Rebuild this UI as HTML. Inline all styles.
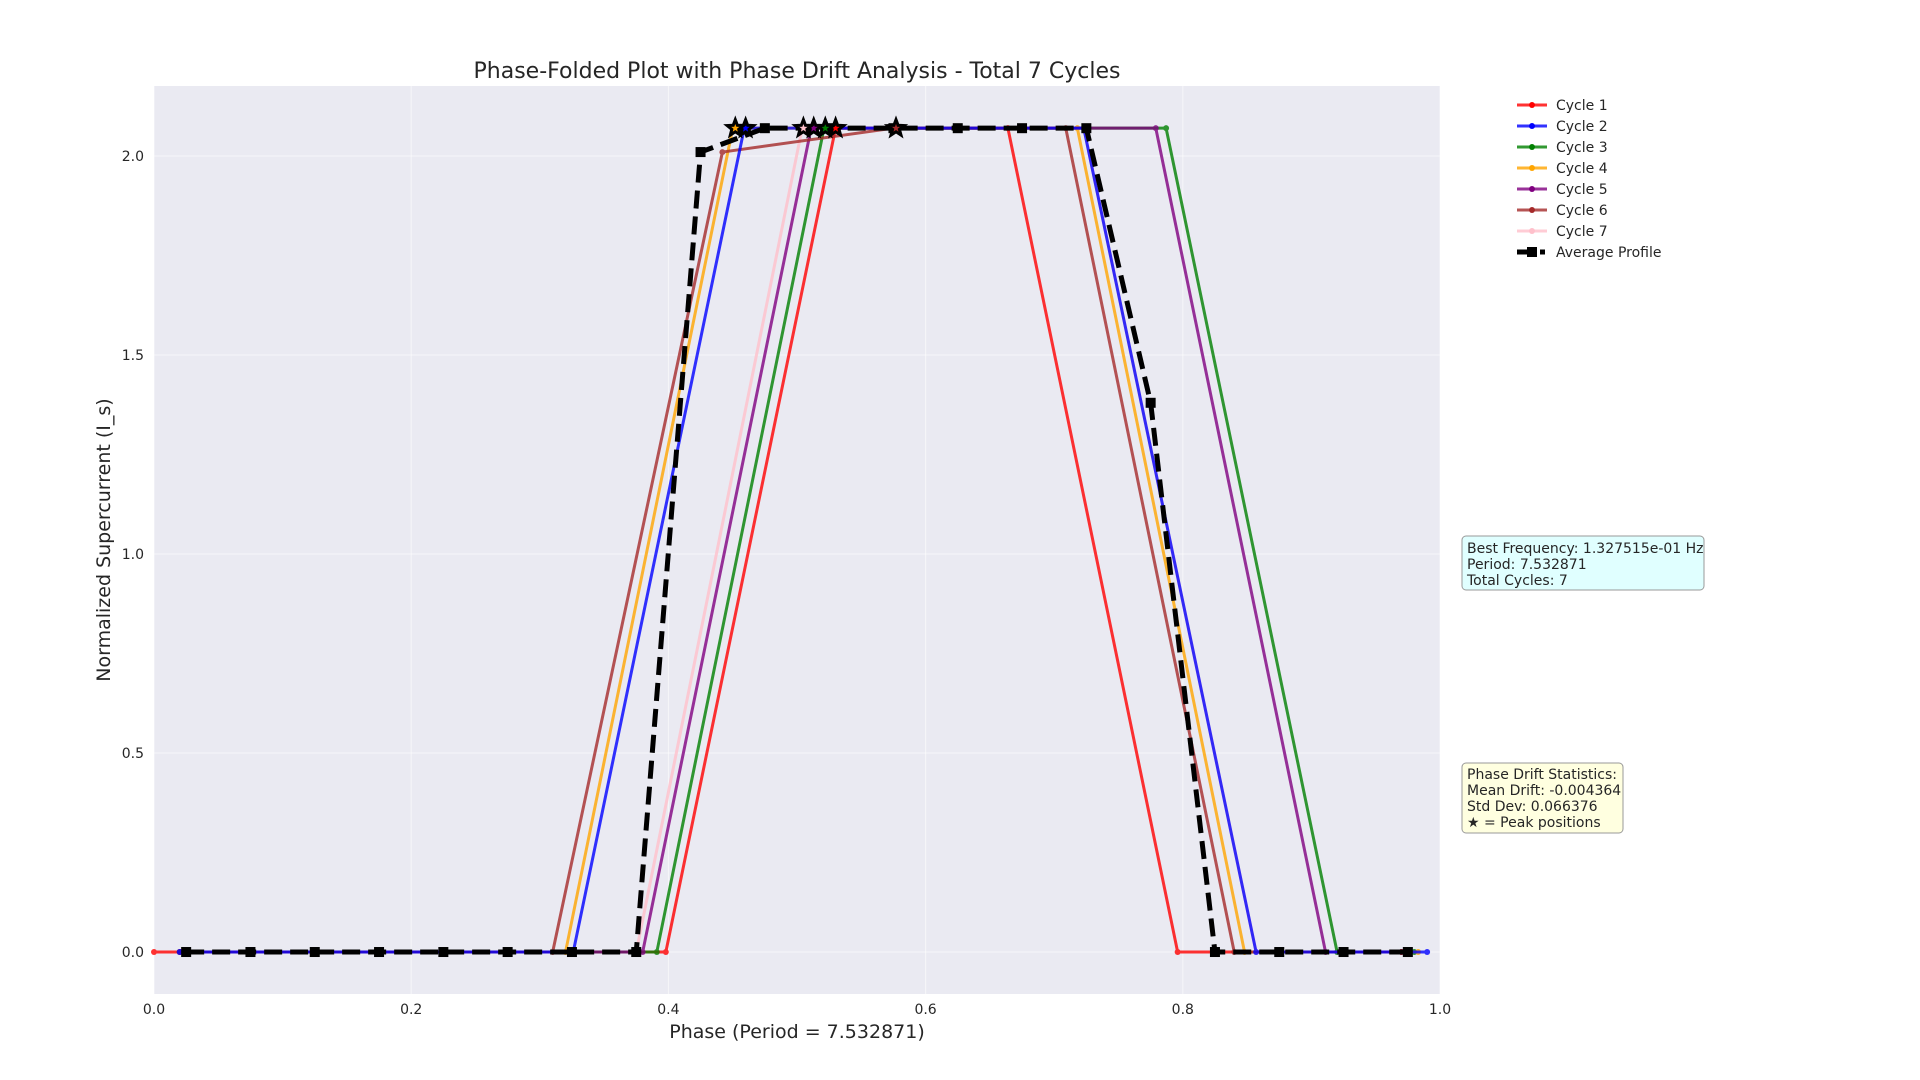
<!DOCTYPE html>
<html><head><meta charset="utf-8"><style>
html,body{margin:0;padding:0;background:#fff;}
svg{display:block;font-family:"DejaVu Sans","Liberation Sans",sans-serif;}
</style></head><body>
<svg id="chart" width="1920" height="1080" viewBox="0 0 1920 1080">
<rect x="154" y="86" width="1286" height="908" fill="#eaeaf2"/>
<g id="grid"></g><g id="series"></g><g id="avg"></g><g id="stars"></g><g id="ticks"></g>
<text x="797" y="78" text-anchor="middle" font-size="22" fill="#262626">Phase-Folded Plot with Phase Drift Analysis - Total 7 Cycles</text>
<text x="797" y="1038" text-anchor="middle" font-size="19" fill="#262626">Phase (Period = 7.532871)</text>
<text transform="translate(110,540) rotate(-90)" text-anchor="middle" font-size="19" fill="#262626">Normalized Supercurrent (I_s)</text>
<g id="legend"></g>
<g>
<rect x="1462" y="536" width="242" height="54" rx="4" fill="#e0ffff" stroke="#999" stroke-width="1"/>
<text x="1467" y="553" font-size="14" fill="#262626">Best Frequency: 1.327515e-01 Hz</text>
<text x="1467" y="569" font-size="14" fill="#262626">Period: 7.532871</text>
<text x="1467" y="585" font-size="14" fill="#262626">Total Cycles: 7</text>
</g>
<g>
<rect x="1462" y="763" width="161" height="70" rx="4" fill="#ffffe0" stroke="#999" stroke-width="1"/>
<text x="1467" y="779" font-size="14" fill="#262626">Phase Drift Statistics:</text>
<text x="1467" y="795" font-size="14" fill="#262626">Mean Drift: -0.004364</text>
<text x="1467" y="811" font-size="14" fill="#262626">Std Dev: 0.066376</text>
<text x="1467" y="827" font-size="14" fill="#262626">★ = Peak positions</text>
</g>
</svg>
<script>
const xTicks=[0,0.2,0.4,0.6,0.8,1.0];
const xTickLabels=["0.0","0.2","0.4","0.6","0.8","1.0"];
const yTicks=[0,0.5,1.0,1.5,2.0];
const yTickLabels=["0.0","0.5","1.0","1.5","2.0"];
const cycleNames=["Cycle 1","Cycle 2","Cycle 3","Cycle 4","Cycle 5","Cycle 6","Cycle 7"];
const cycleColors=["#ff0000","#0000ff","#008000","#ffa500","#800080","#a52a2a","#ffc0cb"];
const c1x=[0,0.398,0.530,0.664,0.796,0.97],c1y=[0,0,2.07,2.07,0,0];
const c2x=[0.02,0.326,0.459,0.723,0.857,0.99],c2y=[0,0,2.07,2.07,0,0];
const c3x=[0.02,0.391,0.521,0.787,0.920,0.98],c3y=[0,0,2.07,2.07,0,0];
const c4x=[0.02,0.320,0.450,0.718,0.848,0.983],c4y=[0,0,2.07,2.07,0,0];
const c5x=[0.02,0.380,0.511,0.779,0.911,0.97],c5y=[0,0,2.07,2.07,0,0];
const c6x=[0.02,0.310,0.442,0.575,0.709,0.840,0.97],c6y=[0,0,2.01,2.07,2.07,0,0];
const c7x=[0.02,0.375,0.504,0.723,0.857,0.97],c7y=[0,0,2.07,2.07,0,0];
const cyclesX=[c1x,c2x,c3x,c4x,c5x,c6x,c7x];
const cyclesY=[c1y,c2y,c3y,c4y,c5y,c6y,c7y];
const drawOrder=[6,0,2,3,4,5,1];
const avgX=[0.025,0.075,0.125,0.175,0.225,0.275,0.325,0.375,0.425,0.475,0.525,0.575,0.625,0.675,0.725,0.775,0.825,0.875,0.925,0.975];
const avgY=[0,0,0,0,0,0,0,0,2.01,2.07,2.07,2.07,2.07,2.07,2.07,1.38,0,0,0,0];
const peakX=[0.530,0.460,0.522,0.452,0.513,0.577,0.505];
const peakY=[2.07,2.07,2.07,2.07,2.07,2.07,2.07];

const NS="http://www.w3.org/2000/svg";
const X0=154,X1=1440,Y0=994,Y1=86,XMIN=0,XMAX=1,YMIN=-0.1055,YMAX=2.176;
function sx(v){return X0+(v-XMIN)/(XMAX-XMIN)*(X1-X0);}
function sy(v){return Y0-(v-YMIN)/(YMAX-YMIN)*(Y0-Y1);}
function mk(tag,attrs,parent){const e=document.createElementNS(NS,tag);for(const k in attrs)e.setAttribute(k,attrs[k]);parent.appendChild(e);return e;}
const grid=document.getElementById('grid'),ticks=document.getElementById('ticks');
xTicks.forEach((t,i)=>{
  const l=mk('line',{x1:sx(t),x2:sx(t),y1:Y1,y2:Y0,stroke:'#fff','stroke-width':1,opacity:0.6},grid);
  
  
  const tx=mk('text',{x:sx(t),y:Y0+20,'text-anchor':'middle','font-size':14,fill:'#262626'},ticks);
  tx.textContent=xTickLabels[i];
  
  
});
yTicks.forEach((t,i)=>{
  const l=mk('line',{x1:X0,x2:X1,y1:sy(t),y2:sy(t),stroke:'#fff','stroke-width':1,opacity:0.6},grid);
  
  
  const tx=mk('text',{x:X0-10,y:sy(t)+5,'text-anchor':'end','font-size':14,fill:'#262626'},ticks);
  tx.textContent=yTickLabels[i];
  
  
});
const sg=document.getElementById('series');
drawOrder.forEach(i=>{
  const xs=cyclesX[i];
  const g=mk('g',{opacity:0.8},sg);
  
  
  const pts=xs.map((x,j)=>sx(x)+','+sy(cyclesY[i][j])).join(' ');
  mk('polyline',{points:pts,fill:'none',stroke:cycleColors[i],'stroke-width':3,'stroke-linejoin':'round'},g);
  xs.forEach((x,j)=>{
    const c=mk('circle',{cx:sx(x),cy:sy(cyclesY[i][j]),r:3,fill:cycleColors[i]},g);
    
    
  });
});
const ag=document.getElementById('avg');


mk('polyline',{points:avgX.map((x,j)=>sx(x)+','+sy(avgY[j])).join(' '),fill:'none',stroke:'#000','stroke-width':5,'stroke-dasharray':'18 8'},ag);
avgX.forEach((x,j)=>{
  const r=mk('rect',{x:sx(x)-5,y:sy(avgY[j])-5,width:10,height:10,fill:'#000'},ag);
  
  
});
function starPts(cx,cy,R,r){let p=[];for(let k=0;k<10;k++){const a=-Math.PI/2+k*Math.PI/5;const rr=k%2?r:R;p.push((cx+rr*Math.cos(a)).toFixed(1)+','+(cy+rr*Math.sin(a)).toFixed(1));}return p.join(' ');}
const stg=document.getElementById('stars');
peakX.forEach((x,i)=>{
  const s=mk('polygon',{points:starPts(sx(x),sy(peakY[i]),8.5,3.6),fill:cycleColors[i],stroke:'#000','stroke-width':3,'stroke-linejoin':'miter'},stg);
  
  
});
const lg=document.getElementById('legend');
cycleNames.concat(["Average Profile"]).forEach((n,i)=>{
  const y=105+i*21;
  const g=mk('g',{},lg);
  
  
  if(i<7){
    mk('line',{x1:1517,x2:1547,y1:y,y2:y,stroke:cycleColors[i],'stroke-width':3,opacity:0.8},g);
    mk('circle',{cx:1532,cy:y,r:3,fill:cycleColors[i]},g);
  } else {
    mk('line',{x1:1517,x2:1545,y1:y,y2:y,stroke:'#000','stroke-width':5,'stroke-dasharray':'18 5'},g);
    mk('rect',{x:1527,y:y-5,width:10,height:10,fill:'#000'},g);
  }
  const t=mk('text',{x:1556,y:y+5,'font-size':14,fill:'#262626'},g);
  t.textContent=n;
});
</script>
</body></html>
